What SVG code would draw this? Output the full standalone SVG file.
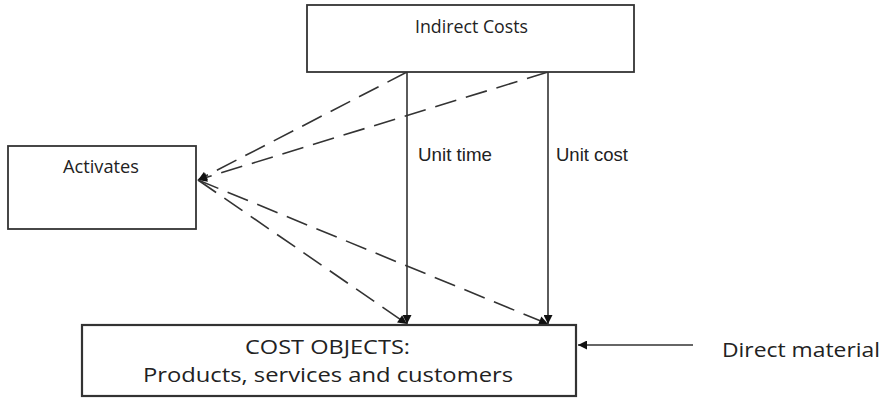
<svg xmlns="http://www.w3.org/2000/svg" width="887" height="398" viewBox="0 0 887 398">
<style>
.box{fill:#fff;stroke:#333;stroke-width:1.8}
.ln{stroke:#333;stroke-width:1.6;fill:none}
.dash{stroke-dasharray:22 10}
.t1{font-family:"Open Sans","Noto Sans",sans-serif;fill:#222}
.t2{font-family:"Liberation Sans",Arial,sans-serif;fill:#222;font-size:18.5px}
</style>
<defs>
<marker id="ah" viewBox="0 0 10 10" refX="10" refY="5" markerWidth="10" markerHeight="9" markerUnits="userSpaceOnUse" orient="auto">
<path d="M0,0 L10,5 L0,10 z" fill="#111"/>
</marker>
</defs>
<rect width="887" height="398" fill="#fff"/>
<g id="connectors">
<line class="ln" x1="407" y1="72" x2="407" y2="324" marker-end="url(#ah)"/>
<line class="ln" x1="548" y1="72" x2="548" y2="324" marker-end="url(#ah)"/>
<line class="ln dash" x1="407" y1="72" x2="198" y2="180" marker-end="url(#ah)"/>
<line class="ln dash" x1="548" y1="72" x2="198" y2="180" marker-end="url(#ah)"/>
<line class="ln dash" x1="198" y1="180" x2="407" y2="324" marker-end="url(#ah)"/>
<line class="ln dash" x1="198" y1="180" x2="548" y2="324" marker-end="url(#ah)"/>
<line class="ln" x1="693" y1="345" x2="578" y2="345" marker-end="url(#ah)"/>
<text class="t2" x="418" y="161" textLength="74" lengthAdjust="spacingAndGlyphs">Unit time</text>
<text class="t2" x="556" y="161" textLength="72" lengthAdjust="spacingAndGlyphs">Unit cost</text>
</g>
<g id="indirect">
<rect class="box" x="307" y="5" width="327" height="67"/>
<text class="t1" x="415" y="33" font-size="17.5" textLength="113" lengthAdjust="spacingAndGlyphs">Indirect Costs</text>
</g>
<g id="activates">
<rect class="box" x="8" y="146" width="188" height="83"/>
<text class="t1" x="63" y="173" font-size="17.5" textLength="76" lengthAdjust="spacingAndGlyphs">Activates</text>
</g>
<g id="costobjects">
<rect class="box" x="82" y="325" width="494" height="71" style="stroke-width:2.2"/>
<text class="t1" x="245" y="354" font-size="20" textLength="165" lengthAdjust="spacingAndGlyphs">COST OBJECTS:</text>
<text class="t1" x="143" y="382" font-size="20" textLength="370" lengthAdjust="spacingAndGlyphs">Products, services and customers</text>
</g>
<g id="direct">
<text class="t1" x="722" y="357" font-size="20" textLength="158" lengthAdjust="spacingAndGlyphs">Direct material</text>
</g>
</svg>
